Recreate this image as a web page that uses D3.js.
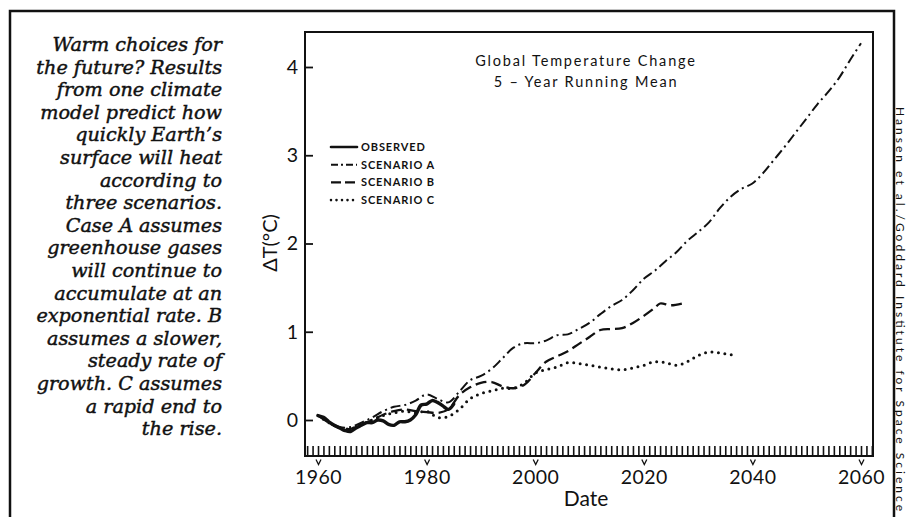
<!DOCTYPE html>
<html>
<head>
<meta charset="utf-8">
<script src="https://cdn.jsdelivr.net/npm/d3@7"></script>
<style>
  html, body { margin: 0; padding: 0; background: #fff; }
  svg { display: block; }
  .cap { font-family: "DejaVu Serif", serif; font-style: italic; font-size: 19.2px; fill: #111; stroke: #111; stroke-width: 0.45px; }
  .ax { font-family: Lato, "DejaVu Sans", sans-serif; fill: #111; }
</style>
</head>
<body>
<svg id="chart" width="908" height="517"></svg>
<script>
// ---- data ----
const observedYears = [1960,1961,1962,1963,1964,1965,1966,1967,1968,1969,1970,1971,1972,1973,1974,1975,1976,1977,1978,1979,1980,1981,1982,1983,1984,1985];
const observedVals  = [0.05,0.03,-0.02,-0.06,-0.09,-0.12,-0.13,-0.09,-0.06,-0.03,-0.03,0.0,-0.01,-0.05,-0.06,-0.02,-0.02,0.0,0.06,0.17,0.18,0.22,0.2,0.16,0.12,0.18];

const scenAYears = [1960,1962,1964,1966,1968,1970,1972,1974,1976,1978,1980,1982,1984,1986,1988,1990,1992,1994,1996,1998,2000,2002,2004,2006,2008,2010,2012,2014,2016,2018,2020,2022,2024,2026,2028,2030,2032,2034,2036,2038,2040,2042,2044,2046,2048,2050,2052,2054,2056,2058,2060];
const scenAVals  = [0.05,-0.02,-0.08,-0.08,-0.03,0.03,0.1,0.15,0.17,0.22,0.29,0.24,0.2,0.32,0.45,0.5,0.58,0.7,0.82,0.87,0.87,0.9,0.96,0.97,1.03,1.1,1.2,1.29,1.36,1.47,1.6,1.69,1.8,1.9,2.03,2.13,2.24,2.4,2.53,2.62,2.68,2.8,2.95,3.1,3.26,3.42,3.58,3.72,3.88,4.08,4.27];

const scenBYears = [1960,1962,1964,1966,1968,1970,1972,1974,1976,1978,1980,1982,1984,1986,1988,1990,1992,1994,1996,1998,2000,2002,2004,2006,2008,2010,2012,2014,2016,2018,2020,2022,2023,2025,2027];
const scenBVals  = [0.05,-0.03,-0.09,-0.1,-0.05,0.0,0.06,0.1,0.12,0.1,0.09,0.08,0.12,0.28,0.37,0.42,0.43,0.38,0.36,0.4,0.53,0.66,0.72,0.78,0.86,0.94,1.02,1.03,1.04,1.1,1.18,1.27,1.32,1.3,1.32];

const scenCYears = [1960,1962,1964,1966,1968,1970,1972,1974,1976,1978,1980,1982,1984,1986,1988,1990,1992,1994,1996,1998,2000,2002,2004,2006,2008,2010,2012,2014,2016,2018,2020,2022,2024,2026,2028,2030,2032,2034,2036,2037];
const scenCVals  = [0.05,-0.03,-0.09,-0.1,-0.05,0.0,0.05,0.08,0.1,0.08,0.1,0.03,0.04,0.12,0.24,0.3,0.33,0.36,0.36,0.42,0.53,0.57,0.6,0.65,0.64,0.62,0.6,0.58,0.57,0.59,0.62,0.66,0.65,0.62,0.66,0.73,0.77,0.76,0.74,0.74];

const xTickYears = [1960,1980,2000,2020,2040,2060];
const yTickVals  = [0,1,2,3,4];
const legendLabels = ['OBSERVED','SCENARIO A','SCENARIO B','SCENARIO C'];

const caption = [
  'Warm choices for', 'the future? Results', 'from one climate', 'model predict how',
  'quickly Earth\u2019s', 'surface will heat', 'according to', 'three scenarios.',
  'Case A assumes', 'greenhouse gases', 'will continue to', 'accumulate at an',
  'exponential rate. B', 'assumes a slower,', 'steady rate of', 'growth. C assumes',
  'a rapid end to', 'the rise.'
];

// ---- line styles per series ----
const styles = [
  {w: 3.4, dash: null, cap: 'round'},
  {w: 2,   dash: '10,4,2,4', cap: 'butt'},
  {w: 2.3, dash: '11,5', cap: 'butt'},
  {w: 3,   dash: '0,6.5', cap: 'round'}
];
const series = [
  observedYears.map((y, i) => ({year: y, v: observedVals[i]})),
  scenAYears.map((y, i) => ({year: y, v: scenAVals[i]})),
  scenBYears.map((y, i) => ({year: y, v: scenBVals[i]})),
  scenCYears.map((y, i) => ({year: y, v: scenCVals[i]}))
];

const svg = d3.select('#chart');

// outer frame
svg.append('path').attr('d', 'M10,517 V11 H894 V517')
  .attr('fill', 'none').attr('stroke', '#111').attr('stroke-width', 2.5);

// caption on the left
svg.append('g').selectAll('text').data(caption).join('text')
  .attr('class', 'cap')
  .attr('x', 222)
  .attr('y', (d, i) => 51 + i * 22.6)
  .attr('text-anchor', 'end')
  .text(d => d);

// credit on the right
svg.append('text')
  .attr('transform', 'translate(895.5,107) rotate(90)')
  .attr('font-family', 'Lato, sans-serif').attr('font-size', 12)
  .attr('textLength', 404).attr('lengthAdjust', 'spacing')
  .attr('fill', '#111')
  .text('Hansen et al./Goddard Institute for Space Science');

// ---- plot ----
const L = 305, R = 873, T = 32, B = 456;
const x = d3.scaleLinear().domain([1960, 2060]).range([318, 861]);
const y = d3.scaleLinear().domain([0, 4]).range([420, 67]);

// yearly ticks along the bottom, pointing up
const yearTicks = d3.range(1958, 2063).filter(yr => x(yr) > L + 1 && x(yr) < R - 1);
svg.append('g').attr('transform', `translate(0,${B})`)
  .call(d3.axisBottom(x).tickValues(yearTicks).tickSize(-10).tickSizeOuter(0).tickFormat(''))
  .call(g => g.select('.domain').remove())
  .call(g => g.selectAll('line').attr('stroke', '#111').attr('stroke-width', 1.6));

// labelled ticks with little v marks
const xl = svg.append('g').attr('transform', `translate(0,${B})`)
  .call(d3.axisBottom(x).tickValues(xTickYears).tickSize(0).tickPadding(14).tickFormat(d3.format('d')))
  .call(g => g.select('.domain').remove());
xl.selectAll('text').attr('class', 'ax').attr('font-size', 19.5).attr('letter-spacing', 0.5).attr('fill', '#111');
xl.selectAll('.tick').append('path')
  .attr('d', 'M-2.5,3.5 L0,8.5 L2.5,3.5')
  .attr('fill', 'none').attr('stroke', '#111').attr('stroke-width', 1.3);

// y axis ticks pointing in
svg.append('g').attr('transform', `translate(${L},0)`)
  .call(d3.axisRight(y).tickValues(yTickVals).tickSize(8).tickFormat(''))
  .call(g => g.select('.domain').remove())
  .call(g => g.selectAll('line').attr('stroke', '#111').attr('stroke-width', 1.8));
svg.append('g').selectAll('text').data(yTickVals).join('text')
  .attr('class', 'ax').attr('font-size', 19.5)
  .attr('x', L - 7).attr('y', d => y(d)).attr('dy', '0.35em')
  .attr('text-anchor', 'end')
  .text(d => d);

// plot frame
svg.append('rect').attr('x', L).attr('y', T).attr('width', R - L).attr('height', B - T)
  .attr('fill', 'none').attr('stroke', '#111').attr('stroke-width', 2);

// axis titles
svg.append('text').attr('class', 'ax').attr('font-size', 20)
  .attr('transform', `translate(277,243) rotate(-90)`)
  .attr('text-anchor', 'middle').text('\u0394T(\u00B0C)');
svg.append('text').attr('class', 'ax').attr('font-size', 21)
  .attr('x', 586).attr('y', 506).attr('text-anchor', 'middle').text('Date');

// chart title
svg.append('text').attr('class', 'ax').attr('font-size', 14.5).attr('letter-spacing', 1.8)
  .attr('x', 586).attr('y', 66).attr('text-anchor', 'middle').text('Global Temperature Change');
svg.append('text').attr('class', 'ax').attr('font-size', 14.5).attr('letter-spacing', 1.8)
  .attr('x', 586).attr('y', 87).attr('text-anchor', 'middle').text('5 \u2013 Year Running Mean');

// series lines
const line = d3.line().x(d => x(d.year)).y(d => y(d.v)).curve(d3.curveCatmullRom);
const order = [1, 2, 3, 0];
svg.append('g').selectAll('path').data(order).join('path')
  .attr('d', i => line(series[i]))
  .attr('fill', 'none').attr('stroke', '#111')
  .attr('stroke-width', i => styles[i].w)
  .attr('stroke-dasharray', i => styles[i].dash)
  .attr('stroke-linecap', i => styles[i].cap)
  .attr('stroke-linejoin', 'round');

// legend
const lg = svg.append('g').attr('transform', 'translate(331,147)');
const rows = lg.selectAll('g').data(legendLabels).join('g')
  .attr('transform', (d, i) => `translate(0,${i * 17.7})`);
rows.append('line').attr('x1', 0).attr('x2', 26).attr('y1', 0).attr('y2', 0)
  .attr('stroke', '#111')
  .attr('stroke-width', (d, i) => Math.min(styles[i].w, 2.6))
  .attr('stroke-dasharray', (d, i) => [null, '7,3,2,3', '10,4', '0,5.5'][i])
  .attr('stroke-linecap', (d, i) => styles[i].cap);
rows.append('text').attr('class', 'ax')
  .attr('x', 30).attr('dy', '0.36em')
  .attr('font-size', 11).attr('font-weight', 'bold').attr('letter-spacing', 0.9)
  .text(d => d);
</script>
</body>
</html>
